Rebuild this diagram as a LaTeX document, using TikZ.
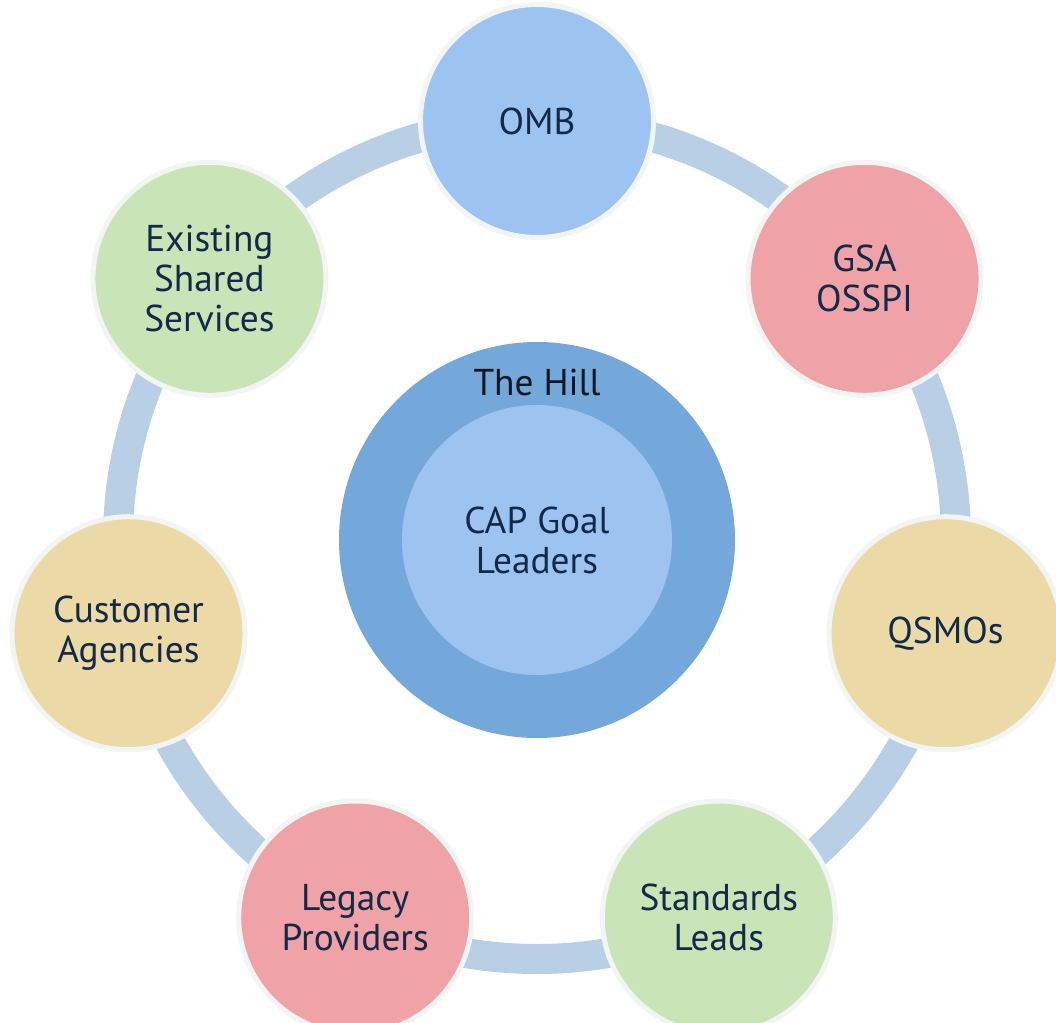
\documentclass[tikz,border=0pt]{standalone}
\usepackage{fontspec}
\setmainfont{PT Sans}
\definecolor{ringblue}{HTML}{B8CFE6}
\definecolor{hillblue}{HTML}{74A7DA}
\definecolor{lightblue}{HTML}{9DC3F0}
\definecolor{rosepink}{HTML}{F0A3A6}
\definecolor{sand}{HTML}{ECDAA6}
\definecolor{mint}{HTML}{C9E4B6}
\definecolor{rim}{HTML}{F3F5F5}
\definecolor{navy}{HTML}{12294A}
\definecolor{ink}{HTML}{0D1722}
\begin{document}
\begin{tikzpicture}[x=0.75pt,y=0.75pt,
  label font/.style={font=\fontsize{28}{30}\selectfont},
  sat/.style={circle, draw=rim, line width=3.75pt, minimum size=174.75pt,
    inner sep=0pt, align=center, text=navy, label font},
  ring/.style={draw=ringblue, line width=22.5pt}]
  % page frame, origin at the hub centre
  \useasboundingbox (-537,-482) rectangle (519,540);
  \fill[white] (-537,-482) rectangle (519,540);

  % hub: outer disc and inner disc
  \node[circle, fill=hillblue, minimum size=297pt, inner sep=0pt] (hill) at (0,0) {};
  \node[anchor=base, text=ink, label font] (hilltext) at (0,145) {The Hill};
  \node[circle, fill=lightblue, minimum size=202.5pt, inner sep=0pt,
        align=center, text=navy, label font] (cap) at (0,0) {CAP Goal\\Leaders};

  % ring joining the seven partners
  \draw[ring] (hill.center) circle (419);

  % partners around the ring
  \node[sat, fill=lightblue] (omb)  at (90:419)       {OMB};
  \node[sat, fill=rosepink]  (gsa)  at (38.571:419)   {GSA\\OSSPI};
  \node[sat, fill=sand]      (qsmo) at (-12.857:419)  {QSMOs};
  \node[sat, fill=mint]      (std)  at (-64.286:419)  {Standards\\Leads};
  \node[sat, fill=rosepink]  (leg)  at (-115.714:419) {Legacy\\Providers};
  \node[sat, fill=sand]      (cust) at (-167.143:419) {Customer\\Agencies};
  \node[sat, fill=mint]      (ess)  at (141.429:419)  {Existing\\Shared\\Services};
\end{tikzpicture}
\end{document}
